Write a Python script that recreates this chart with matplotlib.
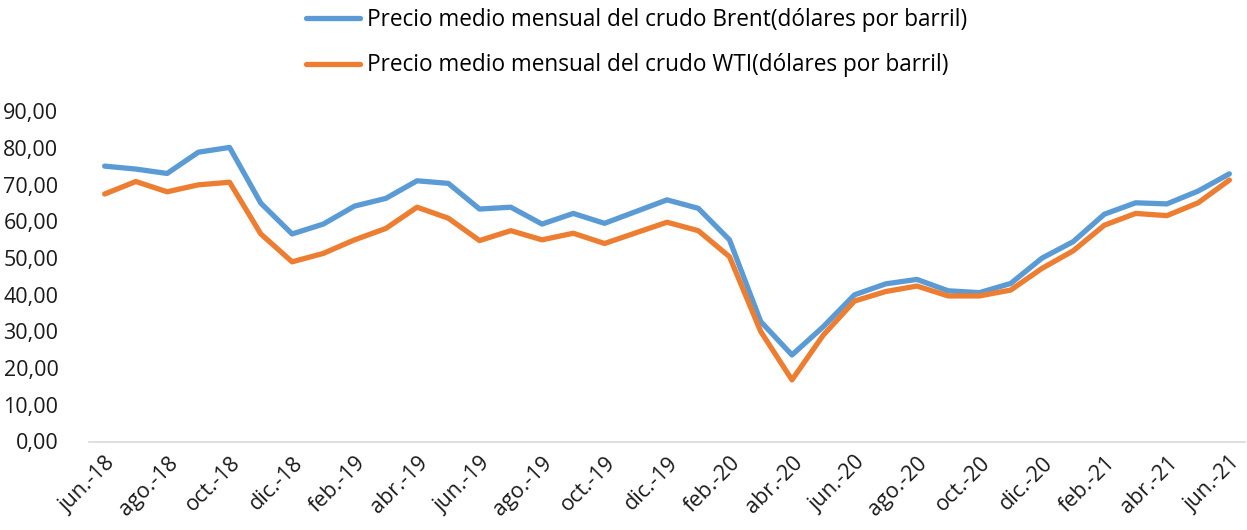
import matplotlib.pyplot as plt
import numpy as np

# month labels (every month, jun-18 .. jun-21)
meses = ['jun.-18', 'jul.-18', 'ago.-18', 'sep.-18', 'oct.-18', 'nov.-18', 'dic.-18',
         'ene.-19', 'feb.-19', 'mar.-19', 'abr.-19', 'may.-19', 'jun.-19', 'jul.-19',
         'ago.-19', 'sep.-19', 'oct.-19', 'nov.-19', 'dic.-19', 'ene.-20', 'feb.-20',
         'mar.-20', 'abr.-20', 'may.-20', 'jun.-20', 'jul.-20', 'ago.-20', 'sep.-20',
         'oct.-20', 'nov.-20', 'dic.-20', 'ene.-21', 'feb.-21', 'mar.-21', 'abr.-21',
         'may.-21', 'jun.-21']

brent = [75.1, 74.3, 73.1, 78.9, 80.2, 65.0, 56.6, 59.3, 64.2, 66.3, 71.1, 70.4,
         63.4, 63.9, 59.3, 62.2, 59.5, 62.7, 65.9, 63.6, 55.0, 32.7, 23.6, 31.3,
         40.0, 43.0, 44.2, 41.1, 40.6, 43.1, 50.0, 54.5, 62.0, 65.1, 64.8, 68.3, 73.0]

wti = [67.5, 70.9, 68.1, 70.0, 70.7, 56.6, 49.0, 51.3, 55.0, 58.1, 63.9, 60.9,
       54.8, 57.5, 55.0, 56.8, 54.0, 56.9, 59.8, 57.5, 50.4, 30.0, 16.8, 29.0,
       38.3, 40.9, 42.4, 39.7, 39.7, 41.3, 47.2, 52.0, 59.0, 62.2, 61.6, 65.1, 71.3]

plt.rcParams['font.family'] = ['Open Sans', 'DejaVu Sans']

fig = plt.figure(figsize=(12.47, 5.30), dpi=100)
ax = fig.add_axes([89/1247, 88.5/530, (1245-89)/1247, (441.5-111.5)/530])

x = np.arange(len(meses))
ax.plot(x, brent, color='#5B9BD5', lw=3.8, solid_capstyle='round',
        label='Precio medio mensual del crudo Brent(dólares por barril)')
ax.plot(x, wti, color='#ED7D31', lw=3.8, solid_capstyle='round',
        label='Precio medio mensual del crudo WTI(dólares por barril)')

ax.set_xlim(-0.5, len(meses) - 0.5)
ax.set_ylim(0, 90)
ax.set_yticks(np.arange(0, 91, 10))
ax.set_yticklabels([f'{v:.2f}'.replace('.', ',') for v in np.arange(0, 91, 10)])
ax.set_xticks(x[::2])
ax.set_xticklabels(meses[::2], rotation=45, ha='right', rotation_mode='anchor')

for s in ['top', 'right', 'left']:
    ax.spines[s].set_visible(False)
ax.spines['bottom'].set_color('#d9d9d9')
ax.spines['bottom'].set_linewidth(1.2)
ax.tick_params(length=0, labelsize=15.5, colors='#1a1a1a')
ax.tick_params(axis='y', pad=22)
ax.tick_params(axis='x', pad=8)

fig.legend(loc='upper left', bbox_to_anchor=(306/1247, 0.985), frameon=False,
           fontsize=16.3, handlelength=2.4, handletextpad=0.28, labelspacing=0.95,
           borderpad=0, borderaxespad=0)

fig.savefig('out.png', dpi=100)
